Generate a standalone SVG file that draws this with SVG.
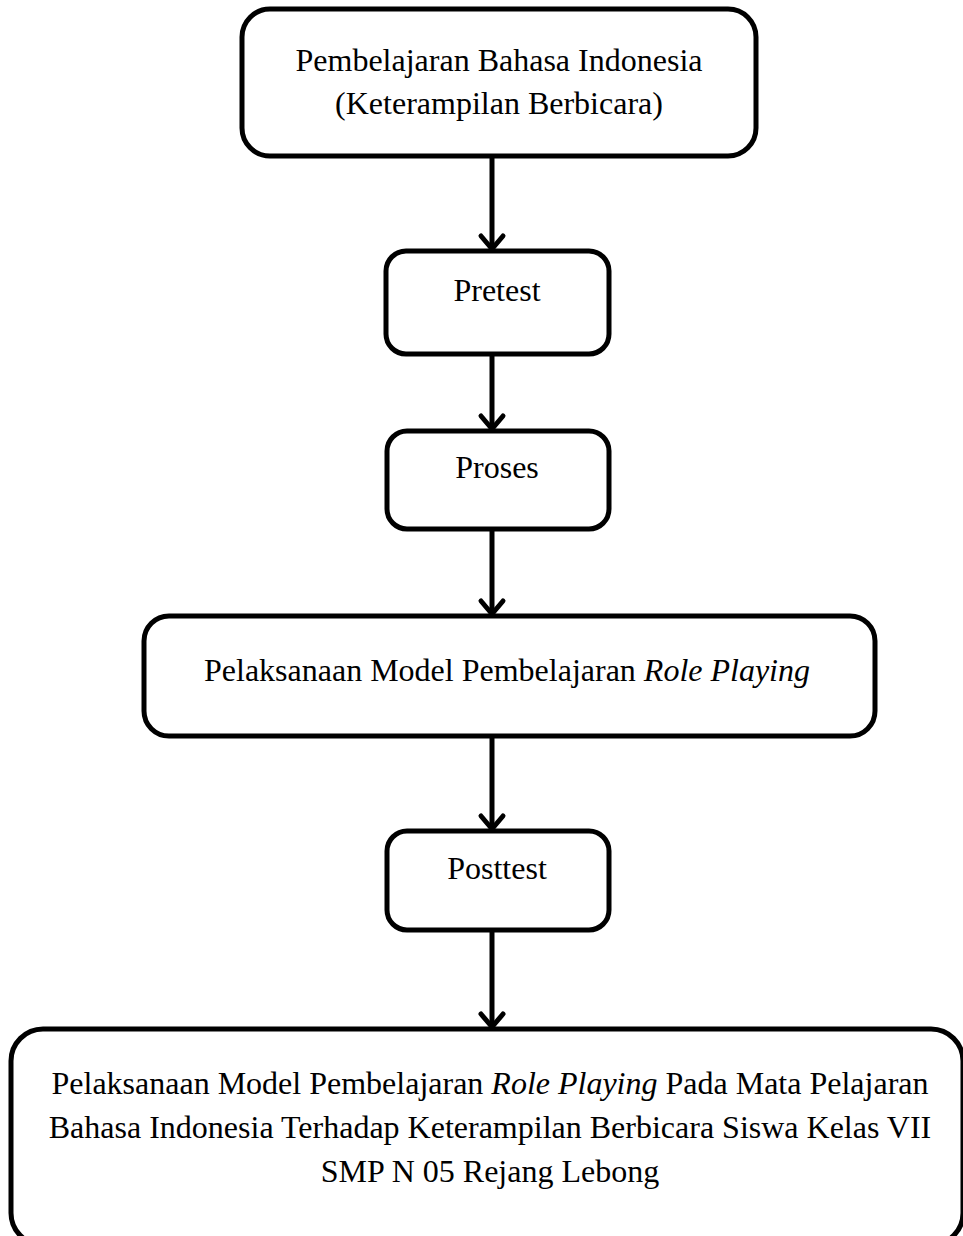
<svg xmlns="http://www.w3.org/2000/svg" width="963" height="1236" viewBox="0 0 963 1236">
<defs>
<style>
.box{fill:#fff;stroke:#000;stroke-width:5}
.t{font-family:"Liberation Serif","Times New Roman",serif;font-size:32px;fill:#000;text-anchor:middle}
.conn line{stroke:#000;stroke-width:5}
.conn polyline{fill:none;stroke:#000;stroke-width:5;stroke-linecap:round;stroke-linejoin:round}
</style>
</defs>
<rect width="963" height="1236" fill="#fff"/>
<g id="conns" class="conn">
<line x1="492" y1="157" x2="492" y2="248"/><polyline points="481,236 492,249 503,236"/>
<line x1="492" y1="355" x2="492" y2="428"/><polyline points="481,416 492,429 503,416"/>
<line x1="492" y1="530" x2="492" y2="613"/><polyline points="481,601 492,614 503,601"/>
<line x1="492" y1="737" x2="492" y2="828"/><polyline points="481,816 492,829 503,816"/>
<line x1="492" y1="930" x2="492" y2="1026"/><polyline points="481,1014 492,1027 503,1014"/>
</g>
<g id="n1"><rect class="box" x="242" y="9" width="514" height="147" rx="28"/>
<text class="t" x="499" y="71" font-size="34">Pembelajaran Bahasa Indonesia</text>
<text class="t" x="499" y="114" font-size="34">(Keterampilan Berbicara)</text></g>
<g id="n2"><rect class="box" x="386" y="251" width="223" height="103" rx="20"/>
<text class="t" x="497" y="301">Pretest</text></g>
<g id="n3"><rect class="box" x="387" y="431" width="222" height="98" rx="20"/>
<text class="t" x="497" y="478">Proses</text></g>
<g id="n4"><rect class="box" x="144" y="616" width="731" height="120" rx="25"/>
<text class="t" x="507" y="681">Pelaksanaan Model Pembelajaran <tspan font-style="italic">Role Playing</tspan></text></g>
<g id="n5"><rect class="box" x="387" y="831" width="222" height="99" rx="20"/>
<text class="t" x="497" y="879">Posttest</text></g>
<g id="n6"><rect class="box" x="11" y="1029" width="952" height="216" rx="32"/>
<text class="t" x="490" y="1094">Pelaksanaan Model Pembelajaran <tspan font-style="italic">Role Playing</tspan> Pada Mata Pelajaran</text>
<text class="t" x="490" y="1138">Bahasa Indonesia Terhadap Keterampilan Berbicara Siswa Kelas VII</text>
<text class="t" x="490" y="1182">SMP N 05 Rejang Lebong</text></g>
</svg>
